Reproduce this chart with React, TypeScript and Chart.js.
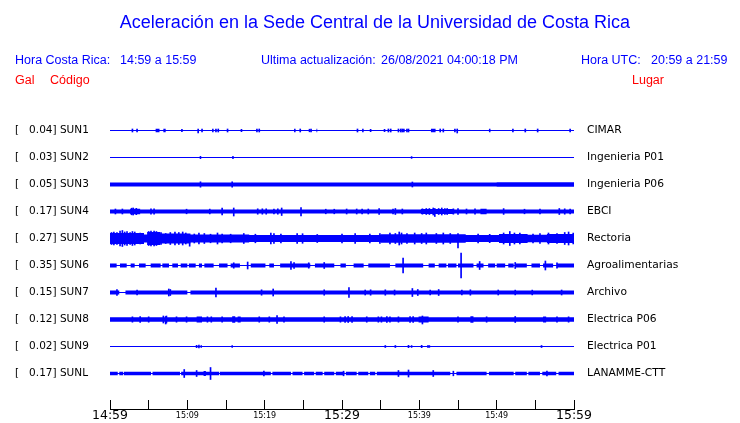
import React, { useEffect, useRef } from "react";
import { Chart, registerables } from "chart.js";

Chart.register(...registerables);

// ---------------- DATA ----------------
const STATION_CODES = ["SUN1", "SUN2", "SUN3", "SUN4", "SUN5", "SUN6", "SUN7", "SUN8", "SUN9", "SUNL"];
const PEAK_GAL = ["0.04", "0.03", "0.05", "0.17", "0.27", "0.35", "0.15", "0.12", "0.02", "0.17"];
const PLACES = ["CIMAR", "Ingenieria P01", "Ingenieria P06", "EBCI", "Rectoria", "Agroalimentarias", "Archivo", "Electrica P06", "Electrica P01", "LANAMME-CTT"];
const X_TICK_LABELS = ["14:59", "", "15:09", "", "15:19", "", "15:29", "", "15:39", "", "15:49", "", "15:59"];
const WINDOW_MINUTES = 60;
const QUIET_AMP = 0.5;

// envelopes: [minute, half amplitude] ; bursts: [from, to, half amplitude] ; gaps: [from, to]
// spikes: [minute, up amplitude, down amplitude?]
const SUN1_ENV = [[0, 0.5]];
const SUN1_BURSTS = [[5.9, 6.4, 1.7], [6.9, 7.2, 1.7], [13.2, 13.4, 1.7], [23.8, 24.0, 1.7], [26.7, 26.8, 1.7], [32.6, 32.8, 1.7], [41.5, 42.1, 1.7], [49.0, 49.2, 1.7]];
const SUN1_GAPS = [];
const SUN1_SPIKES = [[2.9, 1.5], [3.5, 1.5], [9.3, 1.2], [11.4, 1.5, 2.5], [11.9, 1.5], [13.7, 1.5], [14.0, 1.5], [15.2, 1.5], [17.0, 1.2], [19.0, 1.5], [19.3, 1.5], [24.6, 1.5], [25.8, 1.3], [26.0, 1.5], [32.0, 1.5], [33.7, 1.2], [35.5, 1.2], [36.0, 1.5], [36.3, 1.5], [37.3, 1.5], [37.6, 1.5], [37.8, 1.5], [38.0, 1.5], [38.4, 1.5], [38.6, 1.5], [42.7, 1.5], [43.1, 1.5], [44.6, 1.5], [44.9, 1.5, 2.5], [52.1, 1.5], [53.7, 1.5], [55.3, 1.5], [59.5, 1.5]];

const SUN2_ENV = [[0, 0.5]];
const SUN2_BURSTS = [[11.6, 11.8, 1.5], [15.8, 16.0, 1.5], [38.9, 39.1, 1.3]];
const SUN2_GAPS = [];
const SUN2_SPIKES = [];

const SUN3_ENV = [[0, 2.1], [50, 2.3]];
const SUN3_BURSTS = [];
const SUN3_GAPS = [];
const SUN3_SPIKES = [[11.7, 2.7], [15.8, 2.7], [39.1, 2.5]];

const SUN4_ENV = [[0, 2.0], [40.2, 2.5], [44.5, 2.0]];
const SUN4_BURSTS = [[2.6, 3.9, 2.8], [47.9, 48.7, 2.8]];
const SUN4_GAPS = [];
const SUN4_SPIKES = [[0.7, 2.5], [1.6, 2.5], [2.8, 3.3], [3.0, 3.5], [3.4, 3.2], [5.3, 2.7], [5.7, 2.7], [9.9, 2.3], [12.9, 2.4], [14.5, 3.3], [16.0, 3.5, 4.5], [19.1, 2.7], [19.7, 2.7], [20.2, 2.7], [21.2, 2.5], [21.7, 2.7], [22.2, 3.5, 4], [24.7, 4, 4.5], [27.9, 2.3], [29.0, 2.3], [30.6, 2.5], [31.9, 2.5], [32.6, 2.3], [33.4, 2.5], [34.8, 3.0], [36.6, 2.5], [36.9, 3.0], [37.8, 2.5], [40.4, 2.7], [40.9, 3.0], [41.3, 3.0], [41.8, 3.5], [42.0, 3, 5], [42.5, 3.0], [42.9, 3.5], [43.3, 3.0], [43.6, 3.0], [44.4, 2.7], [45.0, 3.0], [46.1, 2.5], [47.2, 2.7], [50.9, 2.9], [53.6, 2.3], [55.6, 2.3], [58.1, 3.0], [58.8, 2.7], [59.5, 2.5]];

const SUN5_ENV = [[0, 5.5], [4.4, 4], [4.8, 6.5], [6.5, 5], [10.4, 4], [18, 3.6], [35, 4.3], [46, 3.6], [50.3, 4.6], [54, 3.8], [56.5, 4.5]];
const SUN5_BURSTS = [];
const SUN5_GAPS = [];
const SUN5_SPIKES = [[0.2, 6], [0.5, 6.5], [0.9, 6], [1.3, 7.5], [1.6, 8], [1.9, 6.5], [2.2, 7], [2.6, 6], [2.9, 7], [3.2, 6.5], [3.5, 5], [3.9, 5.5], [5.0, 7], [5.3, 7.5], [5.7, 7.5], [6.0, 7], [6.6, 6], [7.2, 5], [7.8, 6], [8.4, 6.5], [8.9, 6], [9.4, 6.5], [9.8, 5.5], [10.3, 3.5, 7.7], [10.9, 4.5], [11.5, 5.5], [12.2, 5], [13.0, 4.3], [13.9, 5.5], [14.5, 4.3], [15.6, 4.3], [17.3, 5], [18.8, 4.3], [20.8, 5.5], [21.2, 5], [22.1, 4.3], [24.2, 5], [24.9, 4.8], [26.8, 4], [30.0, 4.3], [31.7, 5], [33.6, 4.3], [34.9, 5], [36.2, 5.5], [36.9, 5], [37.4, 6.5], [37.7, 5.5], [38.4, 5], [39.4, 5.5], [40.3, 5], [40.9, 5.5], [42.2, 5], [43.1, 5.5], [44.0, 5], [45.0, 5, 9.3], [47.6, 4.3], [49.1, 4.2], [50.9, 5.5], [51.7, 7], [52.3, 5.5], [53.0, 5.5], [54.7, 4.3], [55.6, 5], [56.7, 5.5], [57.8, 5], [58.8, 6], [59.3, 6.5], [59.9, 5.5]];

const SUN6_ENV = [[0, 2.0]];
const SUN6_BURSTS = [];
const SUN6_GAPS = [[0.86, 1.29], [2.16, 2.67], [3.19, 3.75], [4.61, 5.26], [6.55, 6.77], [7.63, 8.06], [8.79, 9.14], [10.0, 10.2], [11.08, 11.5], [11.9, 12.2], [13.4, 14.1], [15.2, 15.6], [16.8, 18.2], [20.1, 20.6], [21.2, 22.0], [25.9, 26.5], [29.0, 29.8], [30.5, 31.5], [32.8, 33.4], [36.2, 36.9], [40.5, 41.2], [42.0, 42.5], [43.5, 43.7], [44.8, 45.0], [47.0, 47.4], [48.3, 48.9], [49.8, 50.0], [51.1, 51.5], [52.2, 52.4], [53.9, 54.5], [55.6, 56.0], [57.3, 57.8]];
const SUN6_SPIKES = [[16.0, 2.7], [17.8, 3.5], [23.4, 4], [23.8, 3], [25.7, 2.7], [27.7, 3], [37.9, 7.3], [45.4, 12.3], [47.8, 4], [52.4, 3], [56.3, 4.5], [57.8, 2.7]];

const SUN7_ENV = [[0, 2.1]];
const SUN7_BURSTS = [];
const SUN7_GAPS = [[1.2, 2.0], [10.0, 10.4]];
const SUN7_SPIKES = [[0.9, 3], [3.5, 2.4], [7.6, 3.5], [7.8, 3], [13.7, 4.5], [19.6, 2.7], [21.1, 3.5], [27.7, 2.7], [30.9, 5], [33.0, 2.5], [33.7, 2.7], [35.6, 2.7], [36.8, 2.5], [39.1, 4], [39.8, 3], [41.4, 2.5], [42.5, 3], [45.5, 2.5], [46.6, 2.7], [50.2, 2.5], [52.4, 2.4], [54.6, 2.4], [58.4, 2.5]];

const SUN8_ENV = [[0, 2.2]];
const SUN8_BURSTS = [[11.2, 11.9, 3.0], [15.8, 16.2, 3.3], [16.5, 16.9, 2.9], [39.9, 41.2, 3.0], [46.6, 47.0, 3.3], [56.0, 56.4, 2.9]];
const SUN8_GAPS = [];
const SUN8_SPIKES = [[2.9, 2.7], [3.9, 3], [5.0, 2.7], [6.9, 3.5], [7.2, 3, 4.5], [7.3, 3.5], [8.6, 2.7], [9.9, 2.7], [12.6, 2.7], [13.1, 2.7], [14.5, 2.7], [19.3, 2.7], [20.6, 2.7], [21.6, 4], [22.5, 2.7], [27.7, 2.7], [29.8, 2.7], [30.4, 3], [30.8, 3], [31.3, 2.9], [33.2, 2.7], [34.7, 2.7], [35.1, 2.7], [35.8, 2.9], [36.2, 2.7], [37.3, 2.7], [38.8, 3], [39.2, 3], [40.4, 3.5, 4.5], [45.0, 2.7], [48.7, 2.7], [52.4, 3], [57.8, 2.7], [59.3, 2.7]];

const SUN9_ENV = [[0, 0.5]];
const SUN9_BURSTS = [[11.7, 11.9, 1.3], [15.7, 15.9, 1.3], [38.9, 39.1, 1.2], [41.0, 41.4, 1.2]];
const SUN9_GAPS = [];
const SUN9_SPIKES = [[11.2, 1.2], [11.5, 1.3], [35.6, 1.0], [36.9, 1.0], [38.6, 1.2], [40.3, 1.2], [55.8, 1.0]];

const SUNL_ENV = [[0, 1.7]];
const SUNL_BURSTS = [[12.1, 12.4, 2.4]];
const SUNL_GAPS = [[1.0, 1.2], [1.7, 1.8], [5.3, 5.5], [9.05, 9.2], [14.1, 14.2], [20.8, 21.0], [23.4, 23.6], [24.9, 25.1], [26.4, 26.6], [27.5, 27.7], [29.0, 29.2], [30.3, 30.5], [31.9, 32.1], [33.4, 33.6], [34.3, 34.5], [44.0, 44.8], [48.7, 49.0], [52.2, 52.4], [53.9, 54.1], [55.6, 55.9], [57.7, 58.0]];
const SUNL_SPIKES = [[9.6, 4], [11.2, 3], [13.0, 6], [19.9, 2.5], [30.2, 2.3], [37.3, 3], [38.6, 3.5], [41.8, 3], [44.4, 2.3], [56.5, 2.3]];

const ENVELOPES = [SUN1_ENV, SUN2_ENV, SUN3_ENV, SUN4_ENV, SUN5_ENV, SUN6_ENV, SUN7_ENV, SUN8_ENV, SUN9_ENV, SUNL_ENV];
const BURSTS = [SUN1_BURSTS, SUN2_BURSTS, SUN3_BURSTS, SUN4_BURSTS, SUN5_BURSTS, SUN6_BURSTS, SUN7_BURSTS, SUN8_BURSTS, SUN9_BURSTS, SUNL_BURSTS];
const GAPS = [SUN1_GAPS, SUN2_GAPS, SUN3_GAPS, SUN4_GAPS, SUN5_GAPS, SUN6_GAPS, SUN7_GAPS, SUN8_GAPS, SUN9_GAPS, SUNL_GAPS];
const SPIKES = [SUN1_SPIKES, SUN2_SPIKES, SUN3_SPIKES, SUN4_SPIKES, SUN5_SPIKES, SUN6_SPIKES, SUN7_SPIKES, SUN8_SPIKES, SUN9_SPIKES, SUNL_SPIKES];

// ---------------- BUILD ----------------
const BLUE = "#0000ff";
const GAIN = 1 / 27; // trace rows per amplitude unit

function bandPoints(env: number[][], bursts: number[][], gaps: number[][]) {
  const set = new Set<number>([0, WINDOW_MINUTES]);
  env.forEach(([t]) => set.add(t));
  bursts.forEach(([a, b]) => { set.add(a); set.add(b); });
  gaps.forEach(([a, b]) => { set.add(a); set.add(b); });
  const ts = Array.from(set).sort((a, b) => a - b);
  const ampAt = (t: number) => {
    let amp = env[0][1];
    for (const [bt, a] of env) if (bt <= t) amp = a;
    for (const [a, b, v] of bursts) if (t >= a && t < b) amp = v;
    for (const [a, b] of gaps) if (t >= a && t < b) amp = QUIET_AMP;
    return amp;
  };
  return ts.map((t, k) => ({ x: t, amp: ampAt(k === ts.length - 1 ? ts[k - 1] : t) }));
}

function buildDatasets() {
  const ds: any[] = [];
  STATION_CODES.forEach((_, i) => {
    const pts = bandPoints(ENVELOPES[i], BURSTS[i], GAPS[i]);
    const common = {
      type: "line",
      stepped: true,
      borderWidth: 0,
      borderColor: "rgba(0,0,0,0)",
      backgroundColor: BLUE,
      pointRadius: 0,
      xAxisID: "x",
      yAxisID: "y",
    };
    ds.push({ ...common, data: pts.map((p) => ({ x: p.x, y: i - p.amp * GAIN })), fill: false });
    ds.push({ ...common, data: pts.map((p) => ({ x: p.x, y: i + p.amp * GAIN })), fill: "-1" });
  });
  const bars: any[] = [];
  SPIKES.forEach((list, i) => {
    list.forEach(([t, up, down]) => {
      const dn = down === undefined ? up : down;
      bars.push({ x: t, y: [i - up * GAIN, i + dn * GAIN] });
    });
  });
  ds.push({
    type: "bar",
    data: bars,
    backgroundColor: BLUE,
    borderWidth: 0,
    barThickness: 1,
    grouped: false,
    xAxisID: "x",
    yAxisID: "y",
  });
  return ds;
}

const Y_MIN = -0.5;
const Y_MAX = 9 + 35.5 / 27;
const rowTicks = (axis: any) => {
  axis.ticks = STATION_CODES.map((_, i) => ({ value: i }));
};

export default function App() {
  const ref = useRef<HTMLCanvasElement | null>(null);
  useEffect(() => {
    if (!ref.current) return;
    const chart = new Chart(ref.current, {
      type: "bar",
      data: { datasets: buildDatasets() as any },
      options: {
        animation: false,
        responsive: false,
        devicePixelRatio: 1,
        events: [],
        layout: { padding: { top: 117, left: 15, right: 0, bottom: 0 } },
        plugins: { legend: { display: false }, tooltip: { enabled: false }, title: { display: false } },
        scales: {
          x: {
            type: "linear",
            position: "bottom",
            min: 0,
            max: WINDOW_MINUTES,
            offset: false,
            afterBuildTicks: (axis: any) => {
              axis.ticks = X_TICK_LABELS.map((_, k) => ({ value: (k * WINDOW_MINUTES) / (X_TICK_LABELS.length - 1) }));
            },
            afterFit: (axis: any) => { axis.height = 14; axis.paddingLeft = 0; axis.paddingRight = 0; },
            grid: { display: true, drawOnChartArea: false, drawTicks: true, tickLength: -9, color: "#000", lineWidth: 1, offset: false },
            border: { display: true, color: "#000", width: 1 },
            ticks: {
              autoSkip: false,
              maxRotation: 0,
              padding: 8,
              color: "#000",
              callback: (_v: any, index: number) => X_TICK_LABELS[index],
              font: (ctx: any) => (ctx.index % 6 === 0
                ? { family: "DejaVu Sans", size: 12.5, lineHeight: "15px" }
                : { family: "DejaVu Sans", size: 8, lineHeight: "15px" }),
            },
          },
          y: {
            type: "linear",
            position: "left",
            reverse: true,
            min: Y_MIN,
            max: Y_MAX,
            afterBuildTicks: rowTicks,
            afterFit: (axis: any) => { axis.width = 95; axis.paddingTop = 0; axis.paddingBottom = 0; },
            grid: { display: false, drawTicks: false },
            border: { display: false },
            ticks: {
              crossAlign: "far",
              color: "#000",
              font: { family: "DejaVu Sans", size: 10.5 },
              callback: (_v: any, index: number) => `[   ${PEAK_GAL[index]}] ${STATION_CODES[index]}`,
            },
          },
          y2: {
            type: "linear",
            position: "right",
            reverse: true,
            min: Y_MIN,
            max: Y_MAX,
            afterBuildTicks: rowTicks,
            afterFit: (axis: any) => { axis.width = 166; axis.paddingTop = 0; axis.paddingBottom = 0; },
            grid: { display: false, drawTicks: false },
            border: { display: false },
            ticks: {
              crossAlign: "near",
              padding: 13,
              color: "#000",
              font: { family: "DejaVu Sans", size: 10.7 },
              callback: (_v: any, index: number) => PLACES[index],
            },
          },
        },
      } as any,
    });
    return () => chart.destroy();
  }, []);

  const hdr: React.CSSProperties = { position: "absolute", fontFamily: "'Liberation Sans', Arial, sans-serif", fontSize: 12.5, lineHeight: "14px", whiteSpace: "pre", color: BLUE };
  const red: React.CSSProperties = { ...hdr, color: "#ff0000" };
  return (
    <div style={{ position: "fixed", left: 0, top: 0, width: 740, height: 423, background: "#fff", overflow: "hidden" }}>
      <canvas ref={ref} width={740} height={423} style={{ display: "block", width: 740, height: 423 }} />
      <div style={{ position: "absolute", left: 0, top: 11, width: 750, textAlign: "center", fontFamily: "'Liberation Sans', Arial, sans-serif", fontSize: 18, lineHeight: "22px", color: BLUE }}>
        Aceleración en la Sede Central de la Universidad de Costa Rica
      </div>
      <div style={{ ...hdr, left: 15, top: 53 }}>Hora Costa Rica:</div>
      <div style={{ ...hdr, left: 120, top: 53 }}>14:59 a 15:59</div>
      <div style={{ ...hdr, left: 261, top: 53 }}>Ultima actualización:</div>
      <div style={{ ...hdr, left: 381, top: 53 }}>26/08/2021 04:00:18 PM</div>
      <div style={{ ...hdr, left: 581, top: 53 }}>Hora UTC:</div>
      <div style={{ ...hdr, left: 651, top: 53 }}>20:59 a 21:59</div>
      <div style={{ ...red, left: 15, top: 73 }}>Gal</div>
      <div style={{ ...red, left: 50, top: 73 }}>Código</div>
      <div style={{ ...red, left: 632, top: 73 }}>Lugar</div>
    </div>
  );
}
